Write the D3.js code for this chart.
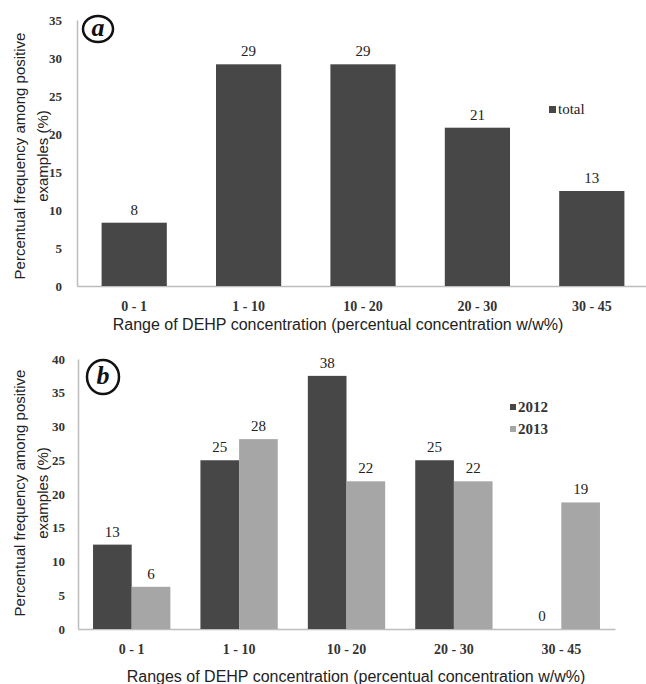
<!DOCTYPE html>
<html>
<head>
<meta charset="utf-8">
<script src="https://cdn.jsdelivr.net/npm/d3@7"></script>
<style>
  body { margin: 0; background: #fff; }
  svg { display: block; }
</style>
</head>
<body>
<div id="chart"></div>
<script>
// data
const ranges = ["0 - 1", "1 - 10", "10 - 20", "20 - 30", "30 - 45"];
const totalValues = [8.33, 29.17, 29.17, 20.83, 12.5];
const totalLabels = ["8", "29", "29", "21", "13"];
const years = ["2012", "2013"];
const values2012 = [12.5, 25, 37.5, 25, 0];
const values2013 = [6.25, 28.13, 21.88, 21.88, 18.75];
const labels2012 = ["13", "25", "38", "25", "0"];
const labels2013 = ["6", "28", "22", "22", "19"];
const ticksA = [0, 5, 10, 15, 20, 25, 30, 35];
const ticksB = [0, 5, 10, 15, 20, 25, 30, 35, 40];

const dark = "#474747";
const light = "#a6a6a6";
const axisColor = "#bdbdbd";
const serif = "'Liberation Serif', 'Times New Roman', serif";
const sans = "'Liberation Sans', Arial, sans-serif";

const svg = d3
  .select("#chart")
  .append("svg")
  .attr("width", 646)
  .attr("height", 684);

function styleAxis(g) {
  g.attr("font-family", null).attr("font-size", null);
  g.select(".domain").attr("stroke", axisColor).attr("stroke-width", 1.5);
  g.selectAll("text")
    .style("font-family", serif)
    .style("fill", "#333");
}

function yTitle(x, cy) {
  const t = svg
    .append("text")
    .attr("transform", `translate(${x},${cy}) rotate(-90)`)
    .attr("text-anchor", "middle")
    .style("font-family", sans)
    .style("font-size", "15px")
    .style("fill", "#222");
  t.append("tspan").attr("x", 0).attr("dy", 0).text("Percentual frequency among positive");
  t.append("tspan").attr("x", 0).attr("dy", "1.5em").text("examples (%)");
}

function badge(cx, cy, rx, ry, letter) {
  svg
    .append("ellipse")
    .attr("cx", cx)
    .attr("cy", cy)
    .attr("rx", rx)
    .attr("ry", ry)
    .attr("fill", "none")
    .attr("stroke", "#111")
    .attr("stroke-width", 2.5);
  svg
    .append("text")
    .attr("x", cx)
    .attr("y", cy + 7)
    .attr("text-anchor", "middle")
    .style("font-family", serif)
    .style("font-style", "italic")
    .style("font-weight", "bold")
    .style("font-size", "26px")
    .style("fill", "#111")
    .text(letter);
}

// ---------- panel a ----------
const xA = d3.scaleBand().domain(ranges).range([77, 649]).paddingInner(0.43).paddingOuter(0.215);
const yA = d3.scaleLinear().domain([0, 35]).range([286, 20]);

svg
  .append("g")
  .attr("transform", "translate(77,0)")
  .call(d3.axisLeft(yA).tickValues(ticksA).tickSize(0).tickPadding(15))
  .call(styleAxis)
  .selectAll("text")
  .style("font-size", "13px")
  .style("font-weight", "bold");

svg
  .append("g")
  .attr("transform", "translate(0,286)")
  .call(d3.axisBottom(xA).tickSize(0).tickPadding(15))
  .call(styleAxis)
  .selectAll("text")
  .style("font-size", "14px")
  .style("font-weight", "bold");

svg
  .selectAll(".barA")
  .data(totalValues)
  .enter()
  .append("rect")
  .attr("class", "barA")
  .attr("x", (d, i) => xA(ranges[i]))
  .attr("y", (d) => yA(d))
  .attr("width", xA.bandwidth())
  .attr("height", (d) => yA(0) - yA(d))
  .attr("fill", dark);

svg
  .selectAll(".labA")
  .data(totalValues)
  .enter()
  .append("text")
  .attr("class", "labA")
  .attr("x", (d, i) => xA(ranges[i]) + xA.bandwidth() / 2)
  .attr("y", (d) => yA(d) - 8)
  .attr("text-anchor", "middle")
  .style("font-family", serif)
  .style("font-size", "15px")
  .style("fill", "#222")
  .text((d, i) => totalLabels[i]);

svg
  .append("rect")
  .attr("x", 549)
  .attr("y", 106)
  .attr("width", 7)
  .attr("height", 7)
  .attr("fill", dark);
svg
  .append("text")
  .attr("x", 558)
  .attr("y", 114)
  .style("font-family", serif)
  .style("font-size", "15px")
  .style("fill", "#222")
  .text("total");

svg
  .append("text")
  .attr("x", 338)
  .attr("y", 330)
  .attr("text-anchor", "middle")
  .style("font-family", sans)
  .style("font-size", "16px")
  .style("fill", "#222")
  .text("Range of DEHP concentration (percentual concentration w/w%)");

yTitle(25, 156);
badge(98, 29, 15, 13, "a");

// ---------- panel b ----------
const xB = d3.scaleBand().domain(ranges).range([78, 615]).paddingInner(0.28).paddingOuter(0.14);
const xSub = d3.scaleBand().domain(years).range([0, xB.bandwidth()]);
const yB = d3.scaleLinear().domain([0, 40]).range([629, 359]);

svg
  .append("g")
  .attr("transform", "translate(78,0)")
  .call(d3.axisLeft(yB).tickValues(ticksB).tickSize(0).tickPadding(13))
  .call(styleAxis)
  .selectAll("text")
  .style("font-size", "13px")
  .style("font-weight", "bold");

svg
  .append("g")
  .attr("transform", "translate(0,629)")
  .call(d3.axisBottom(xB).tickSize(0).tickPadding(15))
  .call(styleAxis)
  .selectAll("text")
  .style("font-size", "14px")
  .style("font-weight", "bold");

const seriesB = [
  { year: "2012", values: values2012, labels: labels2012, color: dark },
  { year: "2013", values: values2013, labels: labels2013, color: light },
];

seriesB.forEach((s) => {
  const bx = (i) => xB(ranges[i]) + xSub(s.year);
  svg
    .selectAll(".bar" + s.year)
    .data(s.values)
    .enter()
    .append("rect")
    .attr("x", (d, i) => bx(i))
    .attr("y", (d) => yB(d))
    .attr("width", xSub.bandwidth())
    .attr("height", (d) => yB(0) - yB(d))
    .attr("fill", s.color);

  svg
    .selectAll(".lab" + s.year)
    .data(s.values)
    .enter()
    .append("text")
    .attr("x", (d, i) => bx(i) + xSub.bandwidth() / 2)
    .attr("y", (d) => yB(d) - 8)
    .attr("text-anchor", "middle")
    .style("font-family", serif)
    .style("font-size", "15px")
    .style("fill", "#222")
    .text((d, i) => s.labels[i]);
});

seriesB.forEach((s, i) => {
  svg
    .append("rect")
    .attr("x", 510)
    .attr("y", 404 + i * 22)
    .attr("width", 6)
    .attr("height", 6)
    .attr("fill", s.color);
  svg
    .append("text")
    .attr("x", 518)
    .attr("y", 412 + i * 22)
    .style("font-family", serif)
    .style("font-size", "15px")
    .style("font-weight", "bold")
    .style("fill", "#333")
    .text(s.year);
});

svg
  .append("text")
  .attr("x", 356)
  .attr("y", 682)
  .attr("text-anchor", "middle")
  .style("font-family", sans)
  .style("font-size", "16px")
  .style("fill", "#222")
  .text("Ranges of DEHP concentration (percentual concentration w/w%)");

yTitle(25, 493);
badge(103, 377, 16, 17, "b");
</script>
</body>
</html>
